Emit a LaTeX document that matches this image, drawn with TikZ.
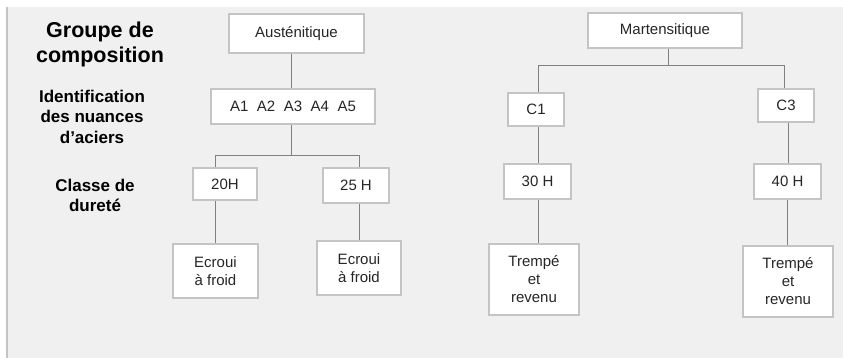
\documentclass[tikz,border=0pt]{standalone}
\usepackage{fontspec}
\setmainfont{Liberation Sans}
\usepackage{tikz}

\definecolor{panel}{HTML}{F0F0F0}
\definecolor{boxline}{HTML}{C4C4C4}
\definecolor{conline}{HTML}{808080}
\definecolor{boxtext}{HTML}{262626}

\newcommand{\agap}{\hspace{8.5pt}}

\begin{document}
\begin{tikzpicture}[x=1pt,y=-1pt,
    box/.style={draw=boxline, line width=1.2pt, fill=white, inner sep=0pt, align=center,
        text=boxtext, font=\fontsize{15}{18}\selectfont},
    level/.style={align=center, inner sep=0pt, font=\bfseries\fontsize{17}{20.5}\selectfont},
    conn/.style={draw=conline, line width=1pt}]
    \useasboundingbox (0,0) rectangle (843,358);
    \fill[panel] (7,7) rectangle (843,358);
    \draw[boxline, line width=1.5pt] (7,7) -- (7,358);

    % levels on the left
    \node[level, font=\bfseries\fontsize{21.5}{25}\selectfont] at (100,44) (lgrp) {Groupe de\\composition};
    \node[level] at (92,116.5) (lid) {Identification\\des nuances\\d'aciers};
    \node[level] at (95,195.5) (lcl) {Classe de\\dureté};

    % austenitic branch
    \node[box, minimum width=135, minimum height=39] at (296.5,33.5) (aus) {Austénitique};
    \node[box, minimum width=164, minimum height=35] at (293,106.5) (agrp) {A1\agap A2\agap A3\agap A4\agap A5};
    \node[box, minimum width=64, minimum height=32] at (225,184) (h20) {20H};
    \node[box, minimum width=66, minimum height=35] at (356,185.5) (h25) {25 H};
    \node[box, minimum width=85, minimum height=54] at (215.5,271) (ecr1) {Ecroui\\à froid};
    \node[box, minimum width=84, minimum height=54] at (359,268) (ecr2) {Ecroui\\à froid};
    \coordinate (ja) at (291,156);

    % martensitic branch
    \node[box, minimum width=154, minimum height=35] at (665,30.5) (mar) {Martensitique};
    \node[box, minimum width=56, minimum height=33] at (536,109.5) (c1) {C1};
    \node[box, minimum width=56, minimum height=33] at (786,105.5) (c3) {C3};
    \node[box, minimum width=67, minimum height=35] at (537.5,181.5) (m30) {30 H};
    \node[box, minimum width=67, minimum height=35] at (787.5,181.5) (m40) {40 H};
    \node[box, minimum width=90, minimum height=71] at (534,279.5) (trm1) {Trempé\\et\\revenu};
    \node[box, minimum width=90, minimum height=71] at (788,281.5) (trm2) {Trempé\\et\\revenu};
    \coordinate (jm) at (668,66);

    \path[conn] (aus.south -| ja) -- (agrp.north -| ja);
    \path[conn] (agrp.south -| ja) -- (ja);
    \path[conn] (ja) -| (ecr1.north |- h20.north);
    \path[conn] (ja) -| (ecr2.north |- h25.north);
    \path[conn] (ecr1.north |- h20.south) -- (ecr1.north);
    \path[conn] (ecr2.north |- h25.south) -- (ecr2.north);
    \path[conn] (mar.south -| jm) -- (jm);
    \path[conn] (jm) -| ([xshift=2]c1.north);
    \path[conn] (jm) -| ([xshift=-2]c3.north);
    \path[conn] ([xshift=2]c1.south) -- ([xshift=2]c1.south |- m30.north);
    \path[conn] ([xshift=2]c3.south) -- ([xshift=2]c3.south |- m40.north);
    \path[conn] ([xshift=2]c1.south |- m30.south) -- ([xshift=2]c1.south |- trm1.north);
    \path[conn] (m40.south) -- (m40.south |- trm2.north);
\end{tikzpicture}
\end{document}
